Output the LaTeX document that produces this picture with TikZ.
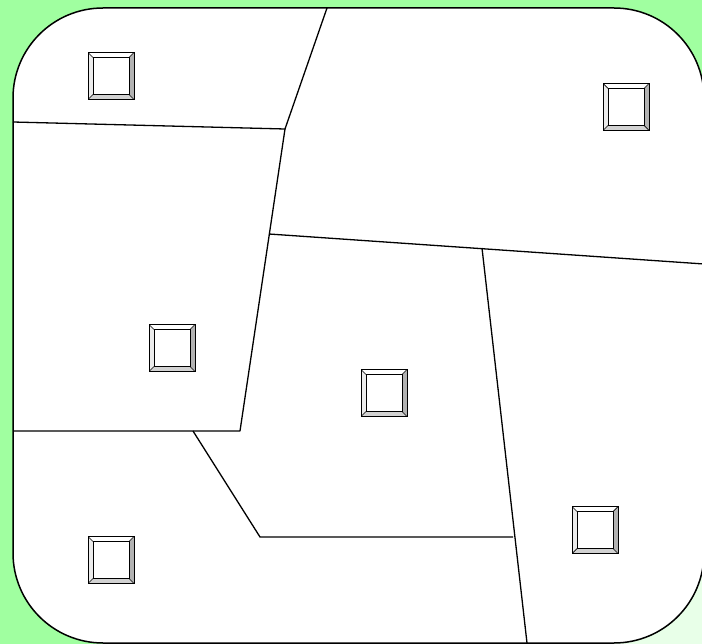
\documentclass[tikz,border=0pt]{standalone}
\usetikzlibrary{calc}

\definecolor{bggreen}{RGB}{160,255,160}
\definecolor{palegreen}{RGB}{232,255,232}

\begin{document}
\begin{tikzpicture}[x=1pt, y=-1pt,
    edge/.style={line width=1.3pt, line join=round},
    bevelbox/.style={draw, line width=1pt, fill=white, inner sep=0pt,
                minimum width=46pt, minimum height=47pt,
                path picture={
                  \coordinate (nw) at (path picture bounding box.north west);
                  \coordinate (ne) at (path picture bounding box.north east);
                  \coordinate (sw) at (path picture bounding box.south west);
                  \coordinate (se) at (path picture bounding box.south east);
                  \coordinate (inw) at ([shift={(5pt,-5pt)}]nw);
                  \coordinate (ine) at ([shift={(-5pt,-5pt)}]ne);
                  \coordinate (isw) at ([shift={(5pt,5pt)}]sw);
                  \coordinate (ise) at ([shift={(-5pt,5pt)}]se);
                  \fill[gray!15] (nw) -- (sw) -- (isw) -- (inw) -- cycle;
                  \fill[gray!60] (ne) -- (se) -- (ise) -- (ine) -- cycle;
                  \fill[gray!35] (sw) -- (se) -- (ise) -- (isw) -- cycle;
                  \draw[line width=0.9pt] (inw) rectangle (ise);
                  \draw[line width=0.7pt] (nw) -- (inw) (ne) -- (ine)
                                          (sw) -- (isw) (se) -- (ise);
                }}]

    % background
    \useasboundingbox (0,0) rectangle (702,644);
    \fill[bggreen] (0,0) rectangle (702,644);
    \fill[palegreen] (610,540) rectangle (702,644);
    \draw[fill=white, line width=1.5pt, rounded corners=90pt] (13,8) rectangle (704,643);

    % corner points of the regions
    \coordinate (topA) at (327,8);
    \coordinate (kink) at (285,129);
    \coordinate (leftA) at (13,122);
    \coordinate (lowK) at (240,431);
    \coordinate (leftB) at (13,431);
    \coordinate (midL) at (269,234);
    \coordinate (midR) at (704,264);
    \coordinate (splitT) at (482,248);
    \coordinate (splitB) at (527,643);
    \coordinate (botA) at (193,431);
    \coordinate (botB) at (260,537);
    \coordinate (botC) at (513,537);

    \draw[edge] (leftA) -- (kink) -- (topA);
    \draw[edge] (kink) -- (lowK) -- (leftB);
    \draw[edge] (midL) -- (midR);
    \draw[edge] (splitT) -- (splitB);
    \draw[edge] (botA) -- (botB) -- (botC);

    % buttons
    \node[bevelbox] (b1) at (111,76) {};
    \node[bevelbox] (b2) at (626,107) {};
    \node[bevelbox] (b3) at (172,348) {};
    \node[bevelbox] (b4) at (384,393) {};
    \node[bevelbox] (b5) at (595,530) {};
    \node[bevelbox] (b6) at (111,560) {};
\end{tikzpicture}
\end{document}
